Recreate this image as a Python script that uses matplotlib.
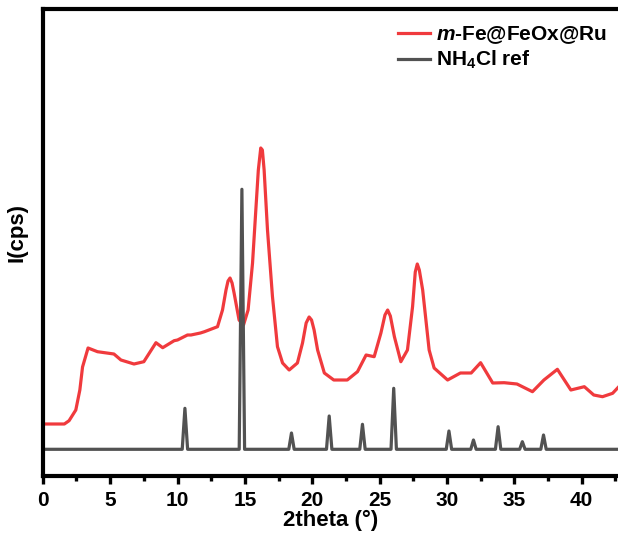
import matplotlib
matplotlib.use("Agg")
import matplotlib.pyplot as plt
import numpy as np

plt.rcParams['font.family'] = ['Liberation Sans', 'DejaVu Sans']
plt.rcParams['font.weight'] = 'bold'
plt.rcParams['mathtext.fontset'] = 'custom'
plt.rcParams['mathtext.rm'] = 'Liberation Sans:bold'
plt.rcParams['mathtext.it'] = 'Liberation Sans:italic:bold'
plt.rcParams['mathtext.bf'] = 'Liberation Sans:bold'

# Sample pattern m-Fe@FeOx@Ru (2theta, intensity in arbitrary units)
sample_2theta = [0, 1.6, 1.95, 2.45, 2.75, 2.95, 3.36, 4.06, 5.28, 5.8, 6.77, 7.5,
                 8.4, 8.9, 9.75, 10.0, 10.74, 11.0, 11.7, 12.0, 12.97, 13.34, 13.6,
                 13.75, 13.9, 14.05, 14.2, 14.57, 14.9, 15.24, 15.57, 15.8, 16.0,
                 16.18, 16.3, 16.43, 16.68, 17.05, 17.42, 17.8, 18.29, 18.9, 19.28,
                 19.55, 19.77, 19.95, 20.14, 20.4, 20.9, 21.6, 22.6, 23.36, 24.0,
                 24.6, 25.1, 25.4, 25.6, 25.8, 26.1, 26.58, 27.07, 27.45, 27.65,
                 27.8, 27.95, 28.2, 28.68, 29.05, 30.05, 31.0, 31.8, 32.5, 33.4,
                 34.25, 35.2, 36.35, 37.2, 38.2, 39.2, 40.2, 40.9, 41.55, 42.3, 42.76]
sample_pix = [424, 424, 420.7, 410, 390, 367, 348, 351.7, 354, 360, 364, 361.7,
              342.7, 347.7, 340.7, 340, 335, 335, 333, 331.7, 326.7, 310, 290,
              281, 278, 283, 293, 320, 325, 310, 263, 213, 170,
              148, 150, 170, 230, 296.7, 346.7, 363, 370, 363, 343,
              323, 317, 320, 330, 350, 373, 380, 380, 371.7, 355,
              356.7, 333, 315, 310, 316, 336.7, 361.7, 350, 306.7, 272,
              264, 270, 290, 350, 368, 380, 373, 373, 362.7, 383,
              382.7, 384, 391.7, 380, 369.3, 390, 386.7, 395, 396.7, 393.3, 386.7]
sample_intensity = [475.5 - p for p in sample_pix]

# NH4Cl reference peaks
ref_2theta = [10.55, 14.78, 18.46, 21.26, 23.73, 26.05, 30.15, 31.97, 33.8, 35.6, 37.17]
ref_height = [41, 260, 16.3, 33.3, 25, 61, 18.3, 9.3, 22.6, 7.6, 14.3]
ref_base = 26.2

# Build reference trace from peaks (narrow triangular profiles)
hw = 0.2
rx, ry = [0.0], [ref_base]
for p, h in zip(ref_2theta, ref_height):
    rx += [p - hw, p, p + hw]
    ry += [ref_base, ref_base + h, ref_base]
rx.append(43.0)
ry.append(ref_base)

fig = plt.figure(figsize=(6.18, 5.37), dpi=100)
ax = fig.add_axes([42.8 / 618, (537 - 475.5) / 537, 1 - 42.8 / 618, (475.5 - 8.5) / 537])

ax.plot(sample_2theta, sample_intensity, color='#f03a3d', lw=2.3,
        label=r'$m$-Fe@FeOx@Ru')
ax.plot(rx, ry, color='#525252', lw=2.3, label=r'NH$_{\mathrm{4}}$Cl ref')

ax.set_xlim(0, 42.7)
ax.set_ylim(0, 467)
ax.set_xticks(np.arange(0, 45, 5))
ax.set_xticks(np.arange(2.5, 43, 5), minor=True)
ax.set_yticks([])
ax.spines['right'].set_visible(False)
for s in ['left', 'bottom', 'top']:
    ax.spines[s].set_linewidth(3)
ax.tick_params(axis='x', which='major', direction='out', length=5.8, width=2.4,
               labelsize=15, pad=5)
ax.tick_params(axis='x', which='minor', direction='out', length=3.4, width=2.4)
for lab in ax.get_xticklabels():
    lab.set_fontweight('bold')

ax.set_xlabel('2theta (°)', fontsize=16, fontweight='bold', labelpad=0)
ax.set_ylabel('I(cps)', fontsize=16, fontweight='bold')
ax.yaxis.set_label_coords(-0.026, 0.52)

leg = ax.legend(loc='upper left', bbox_to_anchor=(398 / 618, 1 - 24 / 537),
                bbox_transform=fig.transFigure, frameon=False, fontsize=15,
                handlelength=1.55, handletextpad=0.25, labelspacing=0.15,
                borderpad=0, borderaxespad=0)
for t in leg.get_texts():
    t.set_fontweight('bold')

fig.savefig('out.png', dpi=100)
